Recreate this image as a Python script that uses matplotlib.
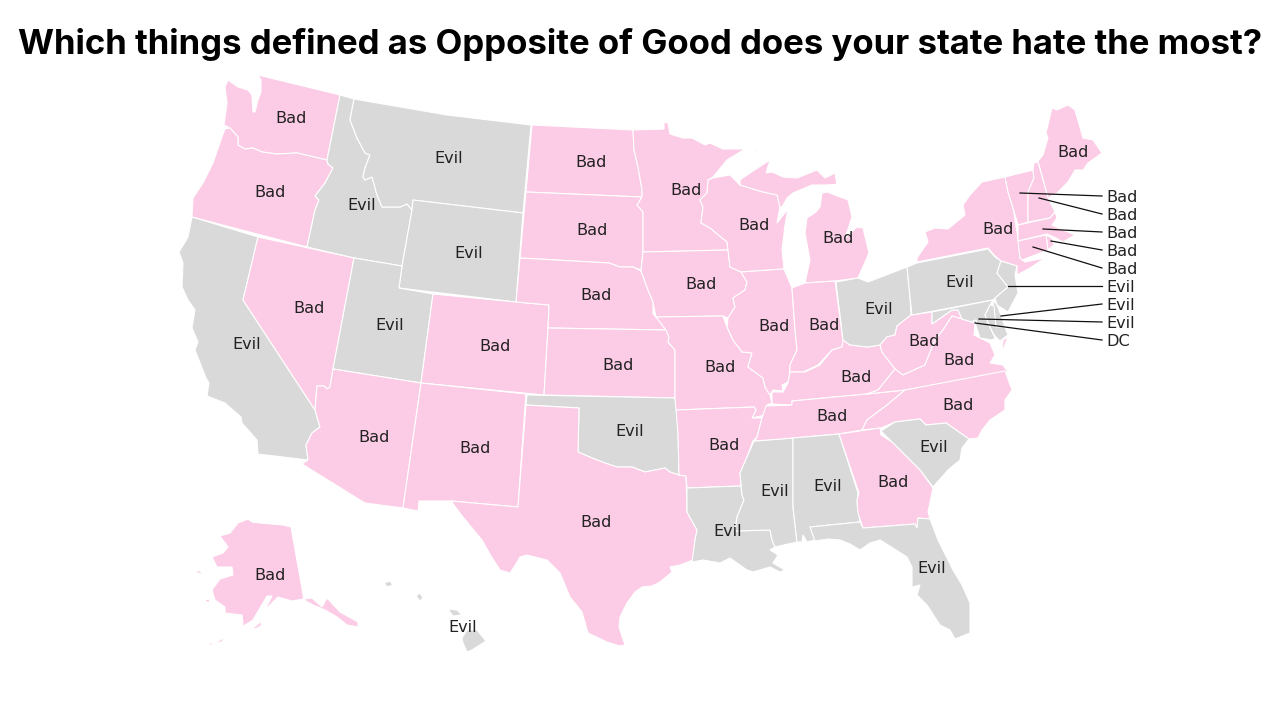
import matplotlib
matplotlib.use("Agg")
import matplotlib.pyplot as plt
from matplotlib.patches import Polygon

# answers per state
states = ["WA","OR","CA","ID","NV","MT","WY","UT","AZ","CO","NM","ND","SD","NE","KS","OK","TX","MN","IA","MO","AR","LA",
          "WI","IL","MS","MI","IN","KY","TN","AL","OH","WV","VA","NC","SC","GA","FL","PA","NY","ME","VT","NH","MA","RI","CT","NJ","DE","MD","DC","AK","HI"]
answers = ["Bad","Bad","Evil","Evil","Bad","Evil","Evil","Evil","Bad","Bad","Bad","Bad","Bad","Bad","Bad","Evil","Bad","Bad","Bad","Bad","Bad","Evil",
           "Bad","Bad","Evil","Bad","Bad","Bad","Bad","Evil","Evil","Bad","Bad","Bad","Evil","Bad","Evil","Evil","Bad","Bad","Bad","Bad","Bad","Bad","Bad","Evil","Evil","Evil","DC","Bad","Evil"]
title = "Which things defined as Opposite of Good does your state hate the most?"

# small states labelled at the side of the map, top to bottom
side_states = ["VT","NH","MA","RI","CT","NJ","DE","MD","DC"]

colors = {"Bad": "#fccbe5", "Evil": "#d9d9d9", "DC": "#d9d9d9"}

# state outlines, in pixels
outlines = {
    "WA": [[(258,75),(340,95),(327,160),(297,153),(277,154),(262,152),(253,148),(245,149),(238,145),(238,137),(230,128),(224,125),(227,103),(225,87),(228,80),(238,87),(248,90),(252,95),(253,112),(255,112),(258,100),(261,92),(261,80)]],
    "OR": [[(230,128),(238,137),(238,145),(245,149),(253,148),(262,152),(277,154),(297,153),(327,160),(328,164),(333,168),(325,183),(315,196),(319,200),(315,210),(307,247),(192,217),(193,198),(203,183),(213,163),(222,137),(225,129)]],
    "CA": [[(192,217),(258,237),(243,300),(315,410),(320,427),(312,433),(306,445),(308,460),(258,454),(257,440),(242,423),(241,417),(225,403),(207,396),(209,383),(206,378),(195,350),(198,342),(192,328),(195,310),(188,300),(182,287),(183,263),(179,252),(188,237)]],
    "ID": [[(340,95),(354,99),(350,120),(357,138),(365,153),(370,155),(365,168),(363,177),(365,180),(372,177),(377,195),(382,207),(400,207),(407,204),(412,210),(402,266),(354,258),(307,247),(315,210),(319,200),(315,196),(325,183),(333,168),(328,164),(327,160)]],
    "NV": [[(258,237),(354,258),(333,369),(330,387),(327,389),(324,386),(317,386),(315,410),(243,300)]],
    "MT": [[(354,99),(447,115),(531,125),(523,213),(413,200),(412,210),(407,204),(400,207),(382,207),(377,195),(372,177),(365,180),(363,177),(365,168),(370,155),(365,153),(357,138),(350,120)]],
    "WY": [[(413,200),(523,213),(516,302),(399,288),(402,266),(412,210)]],
    "UT": [[(354,258),(402,266),(399,288),(433,294),(421,383),(333,369)]],
    "AZ": [[(333,369),(421,383),(403,508),(365,503),(302,464),(308,460),(306,445),(312,433),(320,427),(315,410),(317,386),(324,386),(327,389),(330,387)]],
    "CO": [[(433,294),(516,302),(549,305),(548,328),(544,395),(421,383)]],
    "NM": [[(421,383),(526,394),(525,406),(518,507),(451,501),(419,501),(418,511),(403,508)]],
    "ND": [[(532,125),(633,130),(634,150),(638,167),(642,190),(642,197),(526,192)]],
    "SD": [[(526,192),(642,197),(637,205),(643,212),(643,252),(641,270),(633,267),(620,267),(609,263),(520,258)]],
    "NE": [[(520,258),(609,263),(620,267),(633,267),(641,271),(648,290),(653,302),(653,313),(666,330),(548,328),(549,305),(516,302)]],
    "KS": [[(548,328),(666,330),(669,337),(668,342),(675,350),(675,398),(544,395)]],
    "OK": [[(527,395),(675,398),(677,410),(678,433),(679,475),(670,472),(665,468),(645,472),(632,467),(617,467),(605,463),(592,458),(578,452),(579,408),(526,405)]],
    "TX": [[(526,405),(579,408),(578,452),(592,458),(605,463),(617,467),(632,467),(645,472),(665,468),(670,472),(679,475),(686,476),(687,512),(697,530),(695,540),(693,560),(680,565),(670,567),(672,572),(660,582),(652,586),(642,587),(635,592),(627,603),(620,617),(619,627),(625,645),(620,646),(607,642),(588,633),(582,612),(570,597),(560,573),(547,560),(527,555),(520,557),(516,564),(510,573),(500,570),(491,556),(482,540),(463,517),(451,501),(518,507)]],
    "MN": [[(633,130),(664,129),(664,122),(668,123),(670,134),(683,138),(692,138),(705,145),(710,143),(723,149),(745,149),(727,160),(713,177),(708,180),(707,193),(700,200),(703,207),(701,223),(710,228),(727,242),(728,250),(643,252),(643,212),(637,205),(642,197),(642,190),(638,167),(634,150)]],
    "IA": [[(643,252),(728,250),(730,267),(741,272),(747,282),(745,290),(733,298),(735,307),(728,318),(723,316),(656,317),(653,302),(648,290),(641,271)]],
    "MO": [[(656,317),(723,316),(727,327),(733,340),(742,352),(752,353),(748,367),(763,378),(765,387),(770,395),(772,403),(767,405),(765,415),(752,418),(756,410),(754,407),(676,410),(675,398),(675,350),(668,342),(669,337),(666,330),(653,313)]],
    "AR": [[(676,410),(754,407),(756,410),(752,418),(762,418),(757,437),(753,441),(747,457),(740,473),(741,486),(687,488),(686,476),(679,475),(678,433)]],
    "LA": [[(687,488),(741,486),(742,495),(744,500),(737,517),(735,531),(770,530),(772,540),(775,547),(770,550),(778,555),(773,563),(785,570),(780,572),(770,567),(753,572),(747,570),(730,558),(720,563),(703,560),(692,562),(695,540),(697,530),(687,512)]],
    "WI": [[(708,180),(713,178),(730,175),(740,185),(763,192),(777,195),(780,207),(777,223),(788,209),(785,225),(782,250),(784,269),(741,272),(730,267),(728,250),(727,242),(710,228),(701,223),(703,207),(700,200),(707,193)]],
    "IL": [[(741,272),(784,269),(792,288),(795,330),(797,350),(790,365),(790,372),(788,382),(782,385),(783,391),(773,390),(770,395),(765,387),(763,378),(748,367),(752,353),(742,352),(733,340),(727,327),(728,318),(735,307),(733,298),(745,290),(747,282)]],
    "MS": [[(754,441),(793,438),(793,507),(797,542),(775,547),(772,540),(770,530),(735,531),(737,517),(744,500),(742,495),(740,473),(747,457)]],
    "MI": [[(740,180),(750,173),(770,160),(766,173),(772,172),(783,177),(797,178),(817,170),(825,178),(835,173),(837,185),(843,184),(825,185),(812,185),(793,193),(787,198),(782,207),(780,207),(777,195),(763,192),(740,185)],
           [(805,283),(835,281),(858,278),(869,253),(863,228),(857,227),(845,238),(852,217),(848,200),(827,192),(822,193),(820,207),(816,212),(807,218),(805,233),(810,260)],
           [(755,150),(762,146),(755,152)]],
    "IN": [[(792,288),(805,283),(835,281),(843,340),(842,347),(832,350),(818,365),(803,372),(790,372),(790,365),(797,350),(795,330)]],
    "KY": [[(772,404),(772,392),(783,392),(788,383),(790,372),(805,372),(820,365),(832,350),(842,347),(843,340),(850,345),(868,347),(880,345),(882,352),(895,369),(878,390),(867,394),(792,401),(792,405)]],
    "TN": [[(755,441),(793,438),(839,434),(862,430),(867,420),(887,405),(905,390),(867,394),(792,401),(792,405),(766,406),(762,418),(757,437)]],
    "AL": [[(793,438),(839,434),(858,493),(857,503),(860,522),(810,527),(815,540),(807,542),(803,535),(802,542),(797,542),(793,507)]],
    "OH": [[(836,282),(858,278),(868,282),(907,267),(910,297),(911,315),(897,326),(895,335),(887,337),(880,345),(868,347),(850,345),(843,340)]],
    "WV": [[(911,315),(932,312),(932,324),(952,310),(958,310),(962,319),(952,316),(943,330),(935,340),(925,365),(903,375),(895,369),(882,352),(880,345),(887,337),(895,335),(897,326)]],
    "VA": [[(895,369),(903,375),(925,365),(935,340),(943,330),(952,316),(962,319),(975,323),(974,335),(990,343),(995,355),(990,363),(1003,365),(1008,372),(905,390),(867,394),(878,390)],
           [(1002,353),(1008,337),(1003,340)]],
    "NC": [[(862,430),(867,420),(887,405),(905,390),(1005,371),(1012,390),(1005,400),(1005,410),(990,420),(982,430),(978,438),(969,439),(946,423),(926,425),(920,419),(895,422),(881,428)]],
    "SC": [[(881,431),(895,422),(920,419),(926,425),(946,423),(969,439),(962,448),(960,460),(948,470),(933,487),(920,470),(892,442)]],
    "GA": [[(839,434),(880,428),(881,435),(892,442),(920,470),(933,488),(928,512),(930,519),(918,518),(917,528),(915,524),(863,528),(858,513),(857,500),(859,493)]],
    "FL": [[(810,527),(860,522),(863,528),(915,524),(917,528),(918,518),(930,519),(938,540),(953,570),(962,585),(970,603),(970,633),(955,639),(950,630),(940,625),(927,605),(917,595),(920,585),(912,587),(912,567),(907,557),(893,548),(880,540),(870,543),(860,550),(850,544),(840,540),(828,539),(815,541)]],
    "PA": [[(907,267),(917,263),(988,249),(995,257),(1001,261),(997,273),(1008,287),(993,300),(912,315),(910,297)]],
    "NY": [[(917,262),(988,248),(995,256),(1001,261),(1017,266),(1017,275),(1030,268),(1045,258),(1025,262),(1020,258),(1018,238),(1013,208),(1008,192),(1005,177),(982,182),(970,195),(963,205),(965,215),(948,229),(935,228),(925,232),(928,242),(917,258)]],
    "ME": [[(1038,161),(1043,155),(1048,138),(1046,133),(1052,108),(1057,110),(1068,105),(1075,110),(1083,138),(1093,140),(1102,153),(1088,163),(1083,170),(1075,170),(1068,182),(1057,193),(1048,198)]],
    "VT": [[(1005,177),(1033,170),(1034,178),(1028,192),(1028,222),(1018,225),(1013,208),(1008,192)]],
    "NH": [[(1033,170),(1034,163),(1038,162),(1048,198),(1055,212),(1050,218),(1028,222),(1028,192),(1034,178)]],
    "MA": [[(1018,225),(1050,218),(1055,212),(1057,218),(1052,225),(1063,230),(1075,235),(1063,242),(1056,238),(1047,234),(1018,241)]],
    "RI": [[(1046,235),(1052,238),(1054,245),(1048,250)]],
    "CT": [[(1018,241),(1046,235),(1048,250),(1022,260),(1020,258)]],
    "NJ": [[(1001,261),(1017,266),(1015,275),(1018,293),(1008,312),(997,305),(995,298),(1008,287),(997,273)]],
    "DE": [[(993,300),(997,305),(1002,318),(1005,327),(996,327),(994,315)]],
    "MD": [[(932,312),(993,300),(990,305),(985,315),(990,327),(995,338),(992,340),(980,338),(975,323),(962,319),(958,310),(952,310),(932,324)],
           [(990,305),(994,306),(996,327),(1005,327),(1008,335),(1000,341),(994,335),(989,325),(985,315)]],
    "DC": [[(973,321),(976,320),(977,323),(975,324)]],
    "AK": [[(248,519),(238,523),(230,533),(220,536),(228,547),(223,553),(212,557),(217,567),(232,567),(233,575),(220,579),(212,590),(215,600),(225,607),(225,613),(242,615),(243,625),(228,636),(253,620),(267,596),(272,596),(265,610),(278,597),(292,601),(304,599),(312,598),(322,607),(327,598),(340,612),(358,622),(358,627),(347,625),(337,617),(325,610),(313,605),(304,600),(291,527),(283,525),(260,523),(252,522)],
           [(194,570),(200,571),(203,575),(198,573)],
           [(205,600),(209,599),(210,602),(206,602)],
           [(253,628),(262,621),(261,626),(255,629)],
           [(215,643),(220,640),(225,637),(222,642)],
           [(207,645),(213,642),(212,645)],
           [(187,652),(197,648),(190,652)]],
    "HI": [[(462,638),(467,630),(477,630),(486,641),(472,650),(467,652),(463,643)],
           [(448,609),(457,610),(462,615),(453,616)],
           [(436,604),(440,603),(439,605)],
           [(416,596),(420,593),(423,598),(420,601)],
           [(384,583),(390,581),(393,585),(387,587)]],
}

# where the label sits on the map
label_xy = {
    "WA": (291,117), "OR": (270,191), "CA": (247,343), "ID": (362,204), "NV": (309,307), "MT": (449,157),
    "WY": (469,252), "UT": (390,324), "AZ": (374,436), "CO": (495,345), "NM": (475,447), "ND": (591,161),
    "SD": (592,229), "NE": (596,294), "KS": (618,364), "OK": (630,430), "TX": (596,521), "MN": (686,189),
    "IA": (701,283), "MO": (720,366), "AR": (724,444), "LA": (728,530), "WI": (754,224), "IL": (774,325),
    "MS": (775,490), "MI": (838,237), "IN": (824,324), "KY": (856,376), "TN": (832,415), "AL": (828,485),
    "OH": (879,308), "WV": (924,340), "VA": (959,359), "NC": (958,404), "SC": (934,446), "GA": (893,481),
    "FL": (932,567), "PA": (960,281), "NY": (998,228), "ME": (1073,151), "AK": (270,574), "HI": (463,626),
}
# leader line start on the map for side labels
leader_xy = {
    "VT": (1020,193), "NH": (1039,198), "MA": (1043,229), "RI": (1051,241), "CT": (1033,247),
    "NJ": (1008,286), "DE": (1001,316), "MD": (979,319), "DC": (975,323),
}
side_y = [196, 214, 232, 250, 268, 286, 304, 322, 340]

answer = dict(zip(states, answers))

plt.rcParams["font.family"] = ["DejaVu Sans"]
fig = plt.figure(figsize=(12.8, 7.2), dpi=100)
ax = fig.add_axes([0, 0, 1, 1])
ax.set_xlim(0, 1280)
ax.set_ylim(720, 0)
ax.axis("off")

for st in states:
    for part in outlines[st]:
        ax.add_patch(Polygon(part, closed=True, facecolor=colors[answer[st]], edgecolor="white", linewidth=0.8))

for st, (x, y) in label_xy.items():
    ax.text(x, y, answer[st], ha="center", va="center_baseline", fontsize=11.6, color="#222222")

for st, y in zip(side_states, side_y):
    x0, y0 = leader_xy[st]
    ax.plot([x0, 1102], [y0, y], color="#111111", linewidth=0.9)
    ax.text(1106, y, answer[st], ha="left", va="center_baseline", fontsize=11.6, color="#222222")

ax.text(640, 41, title, ha="center", va="center_baseline", fontsize=25, fontweight="bold", color="black", family="Inter")

fig.savefig("out.png", dpi=100)
